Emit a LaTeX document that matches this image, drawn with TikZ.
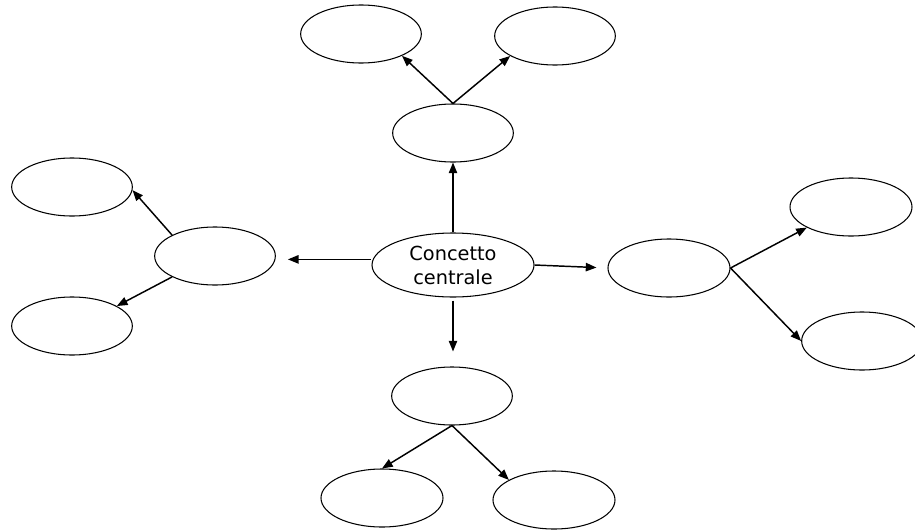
\documentclass[tikz,border=0pt]{standalone}
\usepackage{fontspec}
\setmainfont{DejaVu Sans}
\usetikzlibrary{shapes.geometric,arrows.meta}

\begin{document}
\begin{tikzpicture}[x=0.03cm,y=-0.03cm,
  bubble/.style={ellipse,draw,line width=0.9pt,inner sep=0pt,
    minimum width=3.62cm,minimum height=1.74cm},
  arr/.style={line width=1.25pt,-{Triangle[length=0.32cm,width=0.25cm]}},
  label/.style={font=\fontsize{16.5}{20.5}\selectfont,align=center}]
  \useasboundingbox (0,0) rectangle (915,530);

  % central concept
  \node[bubble,minimum width=4.86cm,minimum height=1.92cm,label] (c) at (453,265)
    {Concetto\\centrale};

  % top branch
  \node[bubble] (tm) at (453,133) {};
  \node[bubble] (tl) at (361,34) {};
  \node[bubble] (tr) at (555,36) {};

  % left branch
  \node[bubble] (ml) at (215,256) {};
  \node[bubble] (ul) at (72,187) {};
  \node[bubble] (ll) at (72,326) {};

  % right branch
  \node[bubble,minimum width=3.66cm] (mr) at (669,268) {};
  \node[bubble,minimum width=3.66cm] (ur) at (851,207) {};
  \node[bubble] (lr) at (862,341) {};

  % bottom branch
  \node[bubble] (bm) at (452,396) {};
  \node[bubble,minimum width=3.66cm] (bl) at (382,498) {};
  \node[bubble,minimum width=3.66cm] (br) at (554,500) {};

  % links from the central concept
  \draw[arr] (c.north) -- (c.north |- tm.south);
  \draw[arr,shorten <=0.06cm,shorten >=0.36cm] (c.176) -- (c.176 -| ml.east);
  \draw[arr,shorten >=0.33cm] (c.east) -- (mr.west);
  \draw[arr,shorten <=0.09cm,shorten >=0.45cm] (c.south) -- (c.south |- bm.north);

  % second level links
  \draw[arr] (tm.north) -- (tl.-28);
  \draw[arr] (tm.north) -- (tr.-156);
  \draw[arr] (ml.154) -- (ul.-3);
  \draw[arr] (ml.-154) -- (ll.24);
  \draw[arr] (mr.east) -- (ur.-155);
  \draw[arr] (mr.east) -- (lr.west);
  \draw[arr] (bm.south) -- (bl.north);
  \draw[arr] (bm.south) -- (br.156);
\end{tikzpicture}
\end{document}
